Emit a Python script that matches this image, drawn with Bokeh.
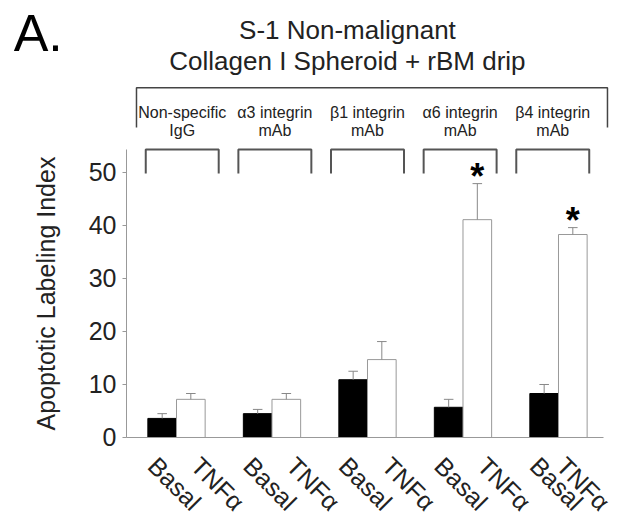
import math
from bokeh.plotting import figure
from bokeh.models import Range1d, FixedTicker
from bokeh.embed import file_html
from bokeh.resources import INLINE
from bokeh.core.properties import value

# ---------------- data ----------------
group_line1 = ["Non-specific", "α3 integrin", "β1 integrin", "α6 integrin", "β4 integrin"]
group_line2 = ["IgG", "mAb", "mAb", "mAb", "mAb"]
conditions = ["Basal", "TNFα"]
basal = [3.6, 4.5, 10.9, 5.7, 8.3]
basal_err = [0.9, 0.8, 1.6, 1.5, 1.7]
tnf = [7.2, 7.2, 14.7, 41.1, 38.3]
tnf_err = [1.1, 1.1, 3.4, 6.8, 1.3]
significant = [False, False, False, True, True]
y_ticks = [0, 10, 20, 30, 40, 50]
title_lines = ["S-1 Non-malignant", "Collagen I Spheroid + rBM drip"]
panel_letter = "A."
y_label = "Apoptotic Labeling Index"

FONT = "Liberation Sans"
STEP = 20          # x units between groups
OFF = 3            # half distance between paired bars
BAR_W = 6
CAP = 1.0
n = len(basal)
centers = [STEP * i for i in range(n)]
xb = [c - OFF for c in centers]
xt = [c + OFF for c in centers]

X_AXIS_AT = -10.47   # x position of the value axis
Y_TOP = 54.3         # top of the value axis line

p = figure(width=615, height=520,
           x_range=Range1d(-36.86, 91.94), y_range=Range1d(-15.66, 82.45),
           output_backend="svg", toolbar_location=None, min_border=0)
p.grid.visible = False
p.outline_line_color = None

# ---- titles ----
p.text(x=[-34.1], y=[76.3], text=[panel_letter], text_font=value(FONT),
       text_font_size="52px", text_align="left", text_baseline="middle",
       text_color="black")
p.text(x=[35.8, 35.8], y=[76.8, 71.0], text=title_lines, text_font=value(FONT),
       text_font_size="26px", text_align="center", text_baseline="middle",
       text_color="#222222")

# ---- treatment brackets and labels ----
BR_SPACING = 19.4
bc = [40 + (i - 2) * BR_SPACING for i in range(n)]
p.text(x=bc, y=[61.3] * n, text=group_line1, text_font=value(FONT),
       text_font_size="16px", text_align="center", text_baseline="middle", text_color="#222222")
p.text(x=bc, y=[57.9] * n, text=group_line2, text_font=value(FONT),
       text_font_size="16px", text_align="center", text_baseline="middle", text_color="#222222")
p.line(x=[-8.38, -8.38, 90.26, 90.26], y=[58.5, 66.0, 66.0, 58.5],
       line_color="#444444", line_width=1.5)

HW = 7.64
br_top, br_bot = 54.34, 49.8
p.multi_line(xs=[[c - HW, c - HW, c + HW, c + HW] for c in bc],
             ys=[[br_bot, br_top, br_top, br_bot] for _ in bc],
             line_color="#555555", line_width=2)

# ---- bars ----
p.vbar(x=xb, top=basal, width=BAR_W, fill_color="black", line_color="black")
p.vbar(x=xt, top=tnf, width=BAR_W, fill_color="white", line_color="#999999", line_width=1)

for xs, vals, errs in ((xb, basal, basal_err), (xt, tnf, tnf_err)):
    tops = [v + e for v, e in zip(vals, errs)]
    p.segment(x0=xs, y0=vals, x1=xs, y1=tops, line_color="#888888", line_width=1)
    p.segment(x0=[x - CAP for x in xs], y0=tops, x1=[x + CAP for x in xs], y1=tops,
              line_color="#888888", line_width=1)

sx = [x for x, s in zip(xt, significant) if s]
sy = [v + e + 1.4 for v, e, s in zip(tnf, tnf_err, significant) if s]
p.text(x=sx, y=sy, text=["*"] * len(sx), text_font=value(FONT),
       text_font_size="36px", text_font_style="bold", text_align="center",
       text_baseline="middle", text_color="black")

# ---- axes (fixed inside the full-canvas frame) ----
yax = p.yaxis[0]
yax.fixed_location = X_AXIS_AT
yax.ticker = FixedTicker(ticks=y_ticks)
yax.bounds = (0, Y_TOP)
yax.axis_line_color = "#999999"
yax.major_tick_line_color = "#999999"
yax.major_tick_out = 4
yax.major_tick_in = 0
yax.minor_tick_line_color = None
yax.major_label_text_font = FONT
yax.major_label_text_font_size = "25px"
yax.major_label_text_color = "#222222"
yax.major_label_standoff = 6
yax.axis_label = y_label
yax.axis_label_text_font = FONT
yax.axis_label_text_font_size = "25px"
yax.axis_label_text_font_style = "normal"
yax.axis_label_text_color = "#222222"
yax.axis_label_standoff = 26

# category labels (slightly spread apart, as in the original figure)
xax = p.xaxis[0]
xax.fixed_location = 0
ticks = []
overrides = {}
for a, b in zip(xb, xt):
    ta, tb = a - 2, b + 1
    ticks += [ta, tb]
    overrides[ta] = conditions[0]
    overrides[tb] = conditions[1]
xax.ticker = FixedTicker(ticks=ticks)
xax.major_label_overrides = overrides
xax.bounds = (X_AXIS_AT, 89.4)
xax.axis_line_color = "#999999"
xax.major_tick_line_color = None
xax.minor_tick_line_color = None
xax.major_label_orientation = -math.pi / 4
xax.major_label_text_font = FONT
xax.major_label_text_font_size = "25px"
xax.major_label_text_color = "#222222"
xax.major_label_standoff = 18

open("out.html", "w").write(file_html(p, INLINE))
